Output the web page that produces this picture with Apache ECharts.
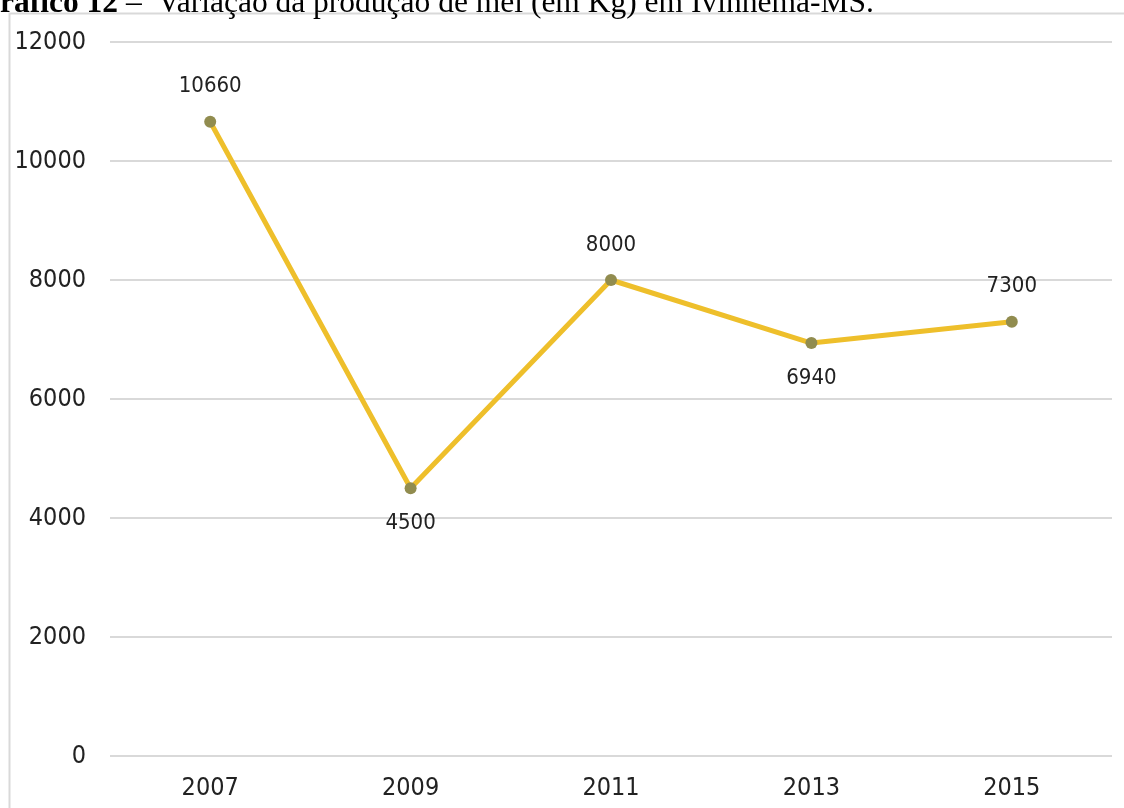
<!DOCTYPE html>
<html>
<head>
<meta charset="utf-8">
<script src="https://cdn.jsdelivr.net/npm/echarts@6/dist/echarts.min.js"></script>
<style>
html,body{margin:0;padding:0;background:#fff;}
#chart{width:1124px;height:808px;}
</style>
</head>
<body>
<div id="chart"></div>
<script>
const titleBold = 'ráfico 12';
const titleRest = ' –  Variação da produção de mel (em Kg) em Ivinhema-MS.';
const years = ['2007', '2009', '2011', '2013', '2015'];
const production = [10660, 4500, 8000, 6940, 7300];
const labelBelow = [false, true, false, true, false];
const yTicks = { min: 0, max: 12000, interval: 2000 };

const axisFont = '"Liberation Sans Narrow", "DejaVu Sans Condensed", sans-serif';

const chart = echarts.init(document.getElementById('chart'), null, { renderer: 'canvas' });

const seriesData = production.map((v, i) => ({
  value: v,
  label: { position: labelBelow[i] ? 'bottom' : 'top' }
}));

chart.setOption({
  backgroundColor: '#ffffff',
  animation: false,
  graphic: [
    {
      type: 'rect',
      shape: { x: 9.5, y: 13.5, width: 1200, height: 900 },
      style: { fill: 'none', stroke: '#d9d9d9', lineWidth: 2 },
      silent: true
    },
    {
      type: 'text',
      left: 0,
      top: -12,
      style: {
        text: '{b|' + titleBold + '}{n|' + titleRest + '}',
        rich: {
          b: { fontFamily: '"Liberation Serif", "Times New Roman", serif', fontWeight: 'bold', fontSize: 31.5, fill: '#000' },
          n: { fontFamily: '"Liberation Serif", "Times New Roman", serif', fontSize: 31.5, fill: '#000' }
        }
      }
    }
  ],
  grid: { left: 110, right: 12, top: 42, bottom: 52, containLabel: false },
  xAxis: {
    type: 'category',
    data: years,
    boundaryGap: true,
    axisLine: { show: false },
    axisTick: { show: false },
    axisLabel: { color: '#222', fontFamily: axisFont, fontSize: 25, margin: 20 }
  },
  yAxis: {
    type: 'value',
    min: yTicks.min,
    max: yTicks.max,
    interval: yTicks.interval,
    axisLine: { show: false },
    axisTick: { show: false },
    axisLabel: { color: '#222', fontFamily: axisFont, fontSize: 25, margin: 24, formatter: v => String(v) },
    splitLine: { lineStyle: { color: '#d9d9d9', width: 2 } }
  },
  series: [{
    type: 'line',
    data: seriesData,
    symbol: 'circle',
    symbolSize: 12,
    lineStyle: { color: '#eebf2b', width: 5 },
    itemStyle: { color: '#918c4f' },
    label: {
      show: true,
      color: '#222',
      fontFamily: axisFont,
      fontSize: 22,
      distance: 18
    },
    z: 3
  }]
});
</script>
</body>
</html>
